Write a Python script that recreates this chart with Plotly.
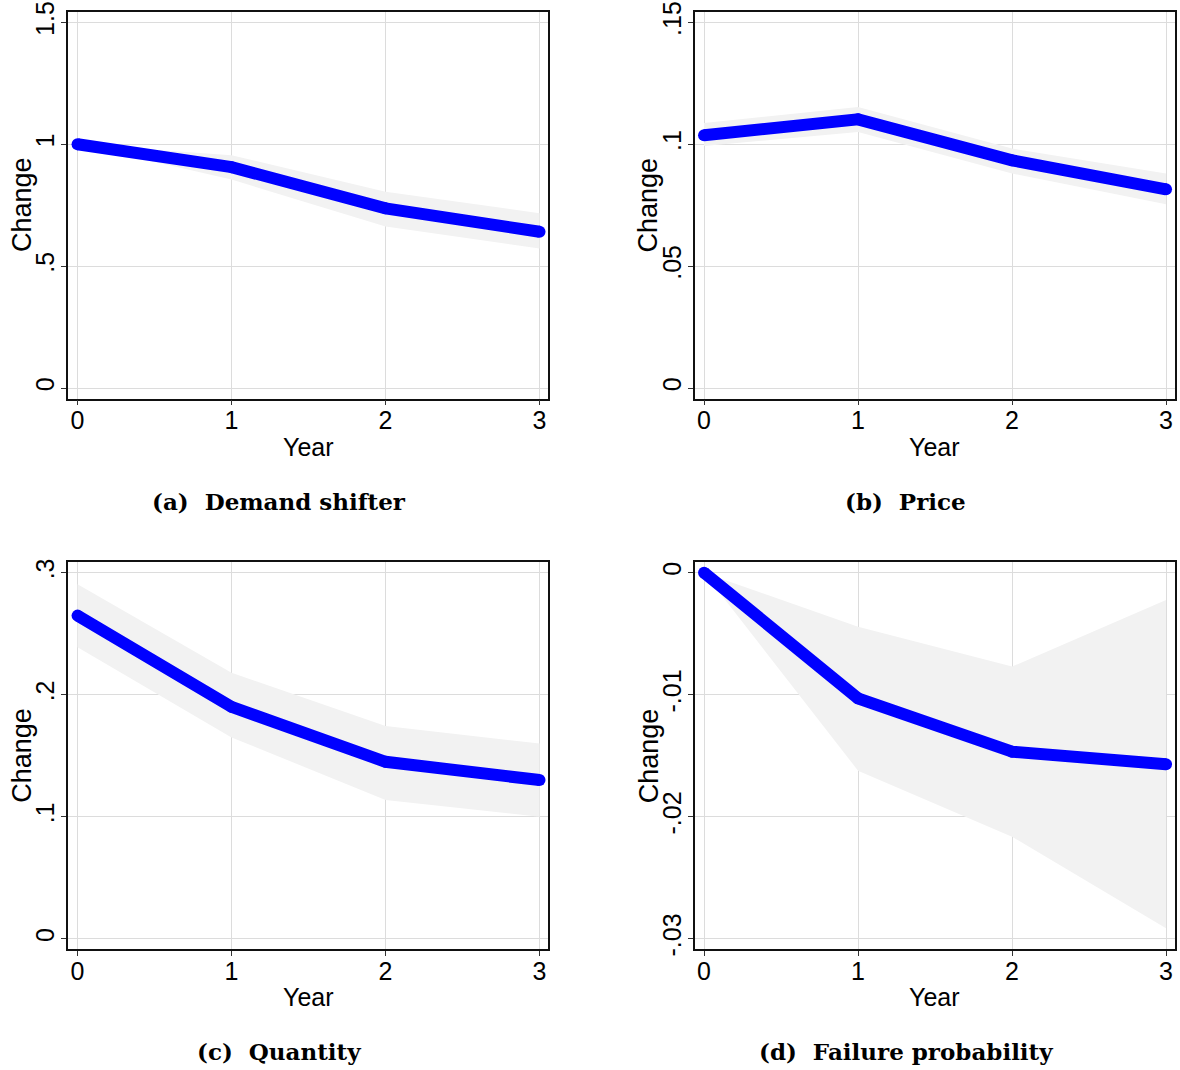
import plotly.graph_objects as go

# Event-time horizon
years = [0, 1, 2, 3]

# (a) Demand shifter
demand_est = [1.0, 0.906, 0.737, 0.641]
demand_hi = [1.0, 0.955, 0.805, 0.717]
demand_lo = [1.0, 0.855, 0.662, 0.572]

# (b) Price
price_est = [0.1037, 0.1102, 0.0934, 0.0815]
price_hi = [0.1087, 0.1153, 0.0982, 0.0880]
price_lo = [0.0993, 0.1050, 0.0880, 0.0754]

# (c) Quantity
qty_est = [0.2648, 0.190, 0.145, 0.130]
qty_hi = [0.2905, 0.218, 0.1743, 0.160]
qty_lo = [0.2389, 0.165, 0.1137, 0.100]

# (d) Failure probability
fail_est = [0.0, -0.0103, -0.01467, -0.0157]
fail_hi = [0.0, -0.00443, -0.0077, -0.00224]
fail_lo = [0.0, -0.01623, -0.02164, -0.02915]

# Tick values / labels per panel
yticks_a = [0, 0.5, 1, 1.5]
ylabels_a = ["0", ".5", "1", "1.5"]
yticks_b = [0, 0.05, 0.1, 0.15]
ylabels_b = ["0", ".05", ".1", ".15"]
yticks_c = [0, 0.1, 0.2, 0.3]
ylabels_c = ["0", ".1", ".2", ".3"]
yticks_d = [-0.03, -0.02, -0.01, 0]
ylabels_d = ["-.03", "-.02", "-.01", "0"]

captions = ["(a)\u00a0\u00a0Demand shifter", "(b)\u00a0\u00a0Price",
            "(c)\u00a0\u00a0Quantity", "(d)\u00a0\u00a0Failure probability"]

W, H = 1180, 1070
SANS = "Liberation Sans, Arial, sans-serif"
BLUE = "#0000FF"
BAND = "#F2F2F2"
GRID = "#DCDCDC"

# Plot-area boxes in pixels: (left, right, top, bottom)
boxes = [
    (68, 548, 11.7, 398.5),
    (694.5, 1174.5, 11.7, 398.5),
    (68, 548, 562.3, 949.3),
    (694.5, 1174.5, 562.3, 949.3),
]
yranges = [
    [-0.043, 1.5435],
    [-0.0043, 0.15435],
    [-0.0087, 0.3085],
    [-0.03087, 0.00085],
]
xrange_ = [-0.062, 3.055]

panels = [
    (demand_est, demand_hi, demand_lo, yticks_a, ylabels_a),
    (price_est, price_hi, price_lo, yticks_b, ylabels_b),
    (qty_est, qty_hi, qty_lo, yticks_c, ylabels_c),
    (fail_est, fail_hi, fail_lo, yticks_d, ylabels_d),
]

fig = go.Figure()
layout = {}
annotations = []

for i, (est, hi, lo, yt, yl) in enumerate(panels):
    n = i + 1
    xa = "x" if n == 1 else f"x{n}"
    ya = "y" if n == 1 else f"y{n}"
    left, right, top, bottom = boxes[i]

    # Confidence band
    fig.add_trace(go.Scatter(x=years, y=hi, xaxis=xa, yaxis=ya, mode="lines",
                             line=dict(width=0, color=BAND), hoverinfo="skip",
                             showlegend=False))
    fig.add_trace(go.Scatter(x=years, y=lo, xaxis=xa, yaxis=ya, mode="lines",
                             line=dict(width=0, color=BAND), fill="tonexty",
                             fillcolor=BAND, hoverinfo="skip", showlegend=False))
    # Point estimates
    fig.add_trace(go.Scatter(x=years, y=est, xaxis=xa, yaxis=ya, mode="lines+markers",
                             line=dict(width=12, color=BLUE),
                             marker=dict(size=12, color=BLUE, line=dict(width=0)),
                             showlegend=False))

    axis_common = dict(showline=True, linecolor="#111111", linewidth=1.5, mirror=True,
                       showgrid=True, gridcolor=GRID, gridwidth=1, zeroline=False,
                       automargin=False,
                       ticks="outside", ticklen=5, tickwidth=1.2, tickcolor="#333333",
                       tickfont=dict(family=SANS, size=25, color="#000000"))
    layout["xaxis" if n == 1 else f"xaxis{n}"] = dict(
        axis_common, domain=[left / W, right / W], anchor=ya, range=xrange_,
        tickvals=years, ticktext=[str(v) for v in years], ticklabelstandoff=-6)
    layout["yaxis" if n == 1 else f"yaxis{n}"] = dict(
        axis_common, domain=[1 - bottom / H, 1 - top / H], anchor=xa, range=yranges[i],
        tickvals=yt, ticktext=yl, tickangle=-90, ticklabelstandoff=-3)

    cx = (left + right) / 2
    cy = (top + bottom) / 2
    annotations.append(dict(text="Year", x=cx / W, y=1 - (bottom + 48) / H,
                            xref="paper", yref="paper", showarrow=False,
                            font=dict(family=SANS, size=25, color="#000000"),
                            xanchor="center", yanchor="middle"))
    annotations.append(dict(text="Change", x=(left - 46) / W, y=1 - cy / H,
                            xref="paper", yref="paper", showarrow=False, textangle=-90,
                            font=dict(family=SANS, size=27, color="#000000"),
                            xanchor="center", yanchor="middle"))
    annotations.append(dict(text=f"<b>{captions[i]}</b>", x=(left + 211) / W,
                            y=1 - (bottom + 102.5) / H,
                            xref="paper", yref="paper", showarrow=False,
                            font=dict(family="DejaVu Serif, serif", size=23, color="#000000"),
                            xanchor="center", yanchor="middle"))

fig.update_layout(
    width=W, height=H,
    margin=dict(l=0, r=0, t=0, b=0),
    paper_bgcolor="white", plot_bgcolor="white",
    annotations=annotations,
    **layout,
)

fig.write_html("out.html")
